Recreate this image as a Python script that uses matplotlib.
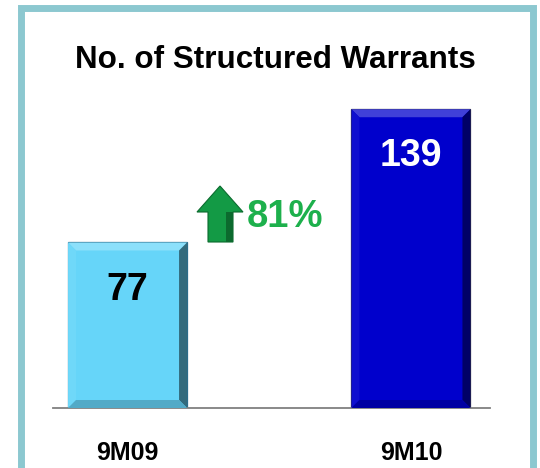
import numpy as np
import matplotlib
matplotlib.use('Agg')
import matplotlib.pyplot as plt
from matplotlib.patches import Rectangle, Polygon

# data
categories = ['9M09', '9M10']
values = [77, 139]
bar_colors = ['#66D5F9', '#0000CC']
label_colors = ['black', 'white']
growth_label = '81%'
title = 'No. of Structured Warrants'

plt.rcParams['font.family'] = ['Liberation Sans', 'DejaVu Sans']

W, H = 540, 468
fig = plt.figure(figsize=(W / 100, H / 100), dpi=100)

# teal frame round the panel (runs off the bottom)
fig.patches.append(Rectangle((21 / W, -0.05), (533 - 21) / W, 1.05 - 8.5 / H,
                             transform=fig.transFigure, fill=False,
                             edgecolor='#8CC8D0', linewidth=5, zorder=0))

# axes: baseline at y=408px, spans x 53..490 px
ax = fig.add_axes([53 / W, (H - 408) / H, (490 - 53) / W, (408 - 80) / H])
ax.set_xlim(-0.263, 1.279)
ax.set_ylim(0, 152.6)
for s in ['top', 'right', 'left']:
    ax.spines[s].set_visible(False)
ax.spines['bottom'].set_color('#808080')
ax.spines['bottom'].set_linewidth(1.3)
ax.set_yticks([])
ax.set_xticks([])
ax.patch.set_alpha(0)

x = np.arange(len(categories))
bars = ax.bar(x, values, width=0.42, color=bar_colors,
              edgecolor=['#2C6E8C', '#333344'], linewidth=0.9, zorder=2)


def lighten(c, f):
    rgb = np.array(matplotlib.colors.to_rgb(c))
    return tuple(rgb + (1 - rgb) * f)


def darken(c, f):
    rgb = np.array(matplotlib.colors.to_rgb(c))
    return tuple(rgb * (1 - f))


# bevel look on each bar
px_x = 283.5  # pixels per x unit
px_y = 2.15   # pixels per y unit
for b, c in zip(bars, bar_colors):
    x0, w, h = b.get_x(), b.get_width(), b.get_height()
    dx, dy = 8 / px_x, 8 / px_y
    x1 = x0 + w
    # top band
    ax.add_patch(Polygon([(x0, h), (x1, h), (x1 - dx, h - dy), (x0 + dx, h - dy)],
                         closed=True, color=lighten(c, 0.25), lw=0, zorder=3))
    # left band
    ax.add_patch(Polygon([(x0, h), (x0 + dx, h - dy), (x0 + dx, dy), (x0, 0)],
                         closed=True, color=lighten(c, 0.06), lw=0, zorder=3))
    # right band
    ax.add_patch(Polygon([(x1, h), (x1 - dx, h - dy), (x1 - dx, dy), (x1, 0)],
                         closed=True, color=darken(c, 0.5), lw=0, zorder=3))
    # bottom band
    ax.add_patch(Polygon([(x0, 0), (x1, 0), (x1 - dx, dy), (x0 + dx, dy)],
                         closed=True, color=darken(c, 0.2), lw=0, zorder=3))

# value labels inside the bars
for xi, v, lc in zip(x, values, label_colors):
    ax.annotate(str(v), (xi, v), xytext=(0, -21), textcoords='offset points',
                ha='center', va='top', fontsize=27, fontweight='bold',
                color=lc, zorder=4)

# category labels under the baseline
for xi, cat in zip(x, categories):
    ax.annotate(cat, (xi, 0), xytext=(0, -24), textcoords='offset points',
                ha='center', va='top', fontsize=18, fontweight='bold',
                color='black')

fig.text(275 / W, 1 - 60 / H, title, ha='center', va='center',
         fontsize=22.6, fontweight='bold')

# green up arrow + growth figure
arrow_px = np.array([(197, 212), (220, 186), (243, 212), (233, 212),
                     (233, 242), (208, 242), (208, 212)], dtype=float)
arrow_fig = np.column_stack([arrow_px[:, 0] / W, 1 - arrow_px[:, 1] / H])
fig.patches.append(Polygon(arrow_fig, closed=True, transform=fig.transFigure,
                           facecolor='#139A45', edgecolor='#0B6B2E',
                           linewidth=0.8, zorder=5))
shade_px = np.array([(226, 212), (233, 212), (233, 242), (226, 242)], dtype=float)
fig.patches.append(Polygon(np.column_stack([shade_px[:, 0] / W, 1 - shade_px[:, 1] / H]),
                           closed=True, transform=fig.transFigure,
                           facecolor='#0C6A2E', linewidth=0, zorder=6))
fig.text(247 / W, 1 - 217 / H, growth_label, ha='left', va='center',
         fontsize=27.5, fontweight='bold', color='#1DB04C')

fig.savefig('out.png', dpi=100)
